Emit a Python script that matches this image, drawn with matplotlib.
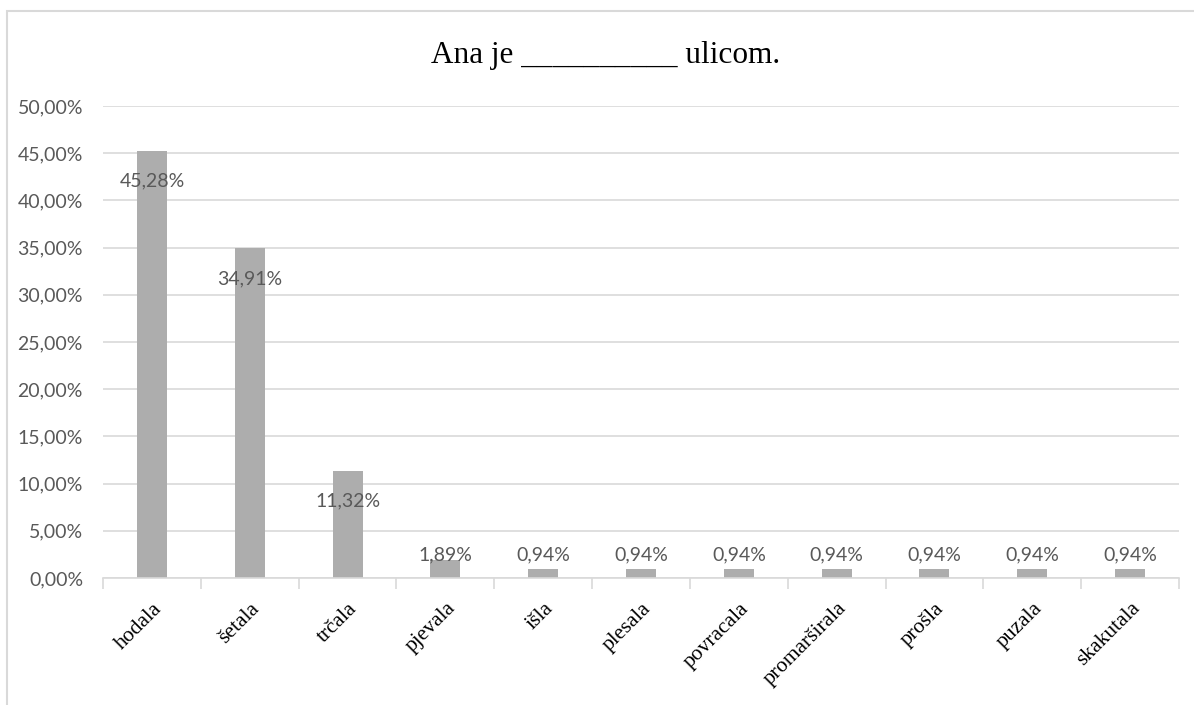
import matplotlib
matplotlib.use("Agg")
import matplotlib.pyplot as plt
from matplotlib.patches import Rectangle
from matplotlib.ticker import FuncFormatter, MultipleLocator
from matplotlib.transforms import ScaledTranslation

categories = ["hodala", "šetala", "trčala", "pjevala", "išla", "plesala",
              "povracala", "promarširala", "prošla", "puzala", "skakutala"]
values = [45.28, 34.91, 11.32, 1.89, 0.94, 0.94, 0.94, 0.94, 0.94, 0.94, 0.94]
title = "Ana je __________ ulicom."

W, H, DPI = 1194, 705, 100
fig = plt.figure(figsize=(W / DPI, H / DPI), dpi=DPI)
fig.patch.set_facecolor("white")

num_font = ["Lato", "DejaVu Sans"]
serif_font = ["Liberation Serif", "DejaVu Serif"]
grey_text = "#595959"

# outer chart frame
fig.patches.append(Rectangle((6.5 / W, -0.1), 1.2, 1 - 11 / H + 0.1,
                             transform=fig.transFigure, fill=False,
                             edgecolor="#D9D9D9", linewidth=1.5))

left, right, top, bottom = 103, 1179, 106, 578
ax = fig.add_axes([left / W, 1 - bottom / H, (right - left) / W, (bottom - top) / H])

x = list(range(len(categories)))
ax.bar(x, values, width=0.306, color="#ADADAD", zorder=2)

ax.set_xlim(-0.5, len(categories) - 0.5)
ax.set_ylim(0, 50)
ax.yaxis.set_major_locator(MultipleLocator(5))
ax.yaxis.set_major_formatter(FuncFormatter(lambda v, _: f"{v:.2f}".replace(".", ",") + "%"))
ax.grid(axis="y", color="#D9D9D9", linewidth=1.2, zorder=0)
ax.set_axisbelow(True)

for s in ["top", "right", "left"]:
    ax.spines[s].set_visible(False)
ax.spines["bottom"].set_color("#D9D9D9")
ax.spines["bottom"].set_linewidth(1.2)
ax.spines["bottom"].set_zorder(3)

ax.tick_params(axis="y", length=0, pad=14.4, labelcolor=grey_text)
for lab in ax.get_yticklabels():
    lab.set_fontfamily(num_font)
    lab.set_fontsize(14)

# category boundary ticks
ax.set_xticks([i - 0.5 for i in range(len(categories) + 1)], minor=False)
ax.set_xticklabels([])
ax.tick_params(axis="x", which="major", length=8, color="#D9D9D9", width=1.2)
ax.set_xticks(x, minor=True)
ax.set_xticklabels(categories, minor=True, rotation=45, ha="right", va="center",
                   rotation_mode="anchor", fontfamily=serif_font, fontsize=15.5)
ax.tick_params(axis="x", which="minor", length=0, pad=20)
shift = ScaledTranslation(7 / DPI, 0, fig.dpi_scale_trans)
for lab in ax.get_xticklabels(minor=True):
    lab.set_transform(lab.get_transform() + shift)

# value labels: inside the top of tall bars, above short ones
for xi, v in zip(x, values):
    txt = f"{v:.2f}".replace(".", ",") + "%"
    if v > 5:
        ax.annotate(txt, (xi, v), xytext=(0, -30), textcoords="offset pixels",
                    ha="center", va="center", fontfamily=num_font, fontsize=14,
                    color=grey_text, zorder=4)
    else:
        ax.text(xi, 2.44, txt, ha="center", va="center", fontfamily=num_font,
                fontsize=14, color=grey_text, zorder=4)

fig.text(606 / W, 1 - 63 / H, title, ha="center", va="baseline",
         fontfamily=serif_font, fontsize=22.5, color="black")

fig.savefig("out.png", dpi=DPI)
